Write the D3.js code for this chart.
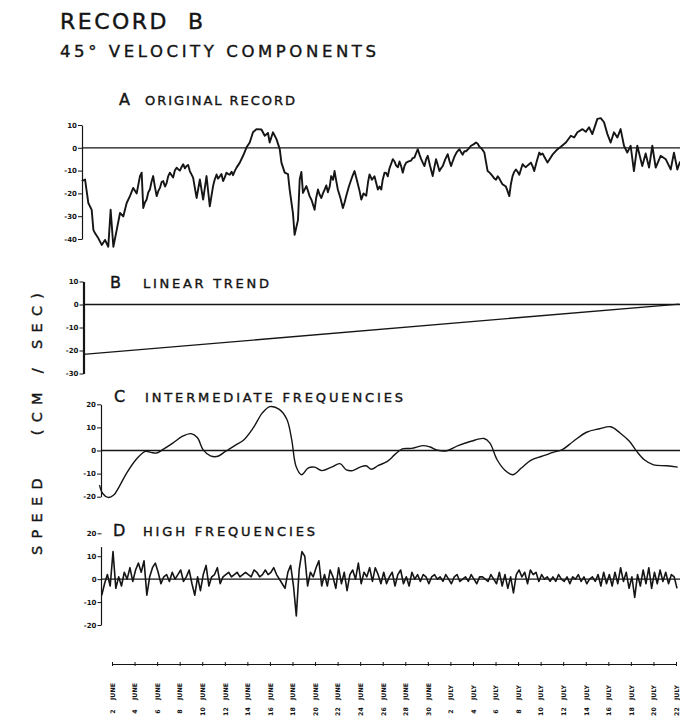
<!DOCTYPE html>
<html>
<head>
<meta charset="utf-8">
<script src="https://cdn.jsdelivr.net/npm/d3@7"></script>
<style>
  body { margin: 0; background: #fff; }
  svg text { font-family: "DejaVu Sans", sans-serif; fill: #141414; }
  .lettering { stroke: #141414; stroke-width: 0.4; }
</style>
</head>
<body>
<svg id="chart" width="680" height="721"></svg>
<script>
(function(){

    // days are counted from 1 June (2 June = 2, 2 July = 32)
    const tickDays = [2,4,6,8,10,12,14,16,18,20,22,24,26,28,30,32,34,36,38,40,42,44,46,48,50,52];
    const tickLabels = ["2 JUNE","4 JUNE","6 JUNE","8 JUNE","10 JUNE","12 JUNE","14 JUNE","16 JUNE",
        "18 JUNE","20 JUNE","22 JUNE","24 JUNE","26 JUNE","28 JUNE","30 JUNE",
        "2 JULY","4 JULY","6 JULY","8 JULY","10 JULY","12 JULY","14 JULY","16 JULY","18 JULY","20 JULY","22 JULY"];

    const ticksA = [10, 0, -10, -20, -30, -40];
    const ticksB = [10, 0, -10, -20, -30];
    const ticksC = [20, 10, 0, -10, -20];
    const ticksD = [20, 10, 0, -10, -20];

    // A: original record [day, cm/sec]
    const originalRecord = [
        [-0.68,-14.6],[-0.39,-13.9],[-0.10,-24.2],[0.20,-27.2],[0.35,-36],[0.50,-37.5],[0.79,-39.7],
        [1.09,-42.6],[1.38,-40.4],[1.67,-43.4],[1.88,-27.2],[2.12,-43.4],[2.42,-36],[2.71,-28.6],
        [3.00,-30.1],[3.30,-24.2],[3.59,-21.2],[3.88,-17.6],[4.19,-20],[4.48,-12.4],[4.63,-10.9],
        [4.77,-26.4],[4.92,-24],[5.07,-22.7],[5.22,-19.5],[5.36,-18.3],[5.50,-15],[5.65,-12.4],[5.80,-17],
        [5.96,-21.2],[6.10,-19],[6.25,-17.6],[6.40,-15],[6.54,-14.6],[6.70,-17],[6.84,-15.5],[6.98,-12.5],
        [7.13,-10.9],[7.28,-12],[7.42,-13],[7.57,-10],[7.73,-8.7],[7.88,-9.5],[8.02,-10],[8.16,-8.5],
        [8.31,-7.2],[8.46,-9],[8.61,-8],[8.75,-7.5],[8.90,-10.2],
        [9.19,-13.1],[9.50,-22],[9.79,-13.9],[10.08,-22.7],[10.38,-12.4],[10.67,-25.7],[10.96,-16.8],
        [11.10,-14],[11.27,-11.7],[11.40,-13.5],[11.56,-12.5],[11.70,-11.5],[11.85,-14.6],[12.00,-13],
        [12.15,-10.9],[12.30,-11.5],[12.44,-11.8],[12.60,-10.5],[12.73,-12],[12.90,-10],[13.04,-8.7],
        [13.33,-6.5],[13.62,-3.5],[13.92,0.1],[14.21,2.3],[14.50,6.8],[14.81,8.2],[15.25,8],[15.54,5.3],
        [15.83,6.5],[15.98,2.3],[16.27,6.8],[16.58,3.8],[16.87,-0.6],[17.02,-6.5],[17.31,-10.9],
        [17.60,-11.5],[17.75,-18.3],[18.04,-28.6],[18.19,-38.2],[18.49,-31.6],[18.64,-13.9],[18.79,-10.6],
        [18.93,-19.8],[19.23,-16.8],[19.38,-19],[19.52,-21.2],[19.70,-23],[19.96,-27.2],[20.10,-22],
        [20.26,-18.3],[20.40,-20.5],[20.56,-22],[20.70,-20],[20.85,-18.3],[21.00,-16.5],[21.14,-19.5],
        [21.30,-17],[21.43,-12.4],[21.60,-14],[21.73,-10.2],[21.88,-14.5],[22.02,-18.3],[22.25,-22],
        [22.47,-26.4],[22.62,-24],[22.77,-21],[23.00,-17],[23.21,-13.9],[23.35,-12],[23.50,-10.2],
        [23.65,-13],[23.80,-16],[23.95,-19],[24.10,-22.7],[24.30,-20],[24.54,-21],[24.70,-15],[24.83,-11.7],
        [25.05,-14],[25.27,-12.5],[25.40,-15],[25.57,-18.3],[25.72,-17],[25.87,-18.3],[26.00,-14],
        [26.16,-10.9],[26.30,-11],[26.45,-12.5],[26.60,-9],[26.75,-7],[26.89,-5],[27.05,-6],[27.19,-7.8],
        [27.35,-8.5],[27.49,-6],[27.63,-8],[27.78,-10.9],[27.93,-8],[28.08,-6.5],[28.30,-6],[28.52,-5.6],
        [28.66,-4.5],[28.81,-4.3],[28.95,-2.5],[29.11,-0.6],[29.26,-3],[29.41,-5],[29.55,-6.5],[29.70,-8],
        [29.85,-5],[29.99,-3.5],[30.20,-8],[30.43,-12.4],[30.58,-8.5],[30.73,-5],[30.88,-7.5],[31.03,-10.2],
        [31.17,-9],[31.32,-8],[31.55,-5],[31.76,-2.8],[31.90,-5.5],[32.06,-8],[32.20,-6],[32.35,-4],
        [32.55,-2],[32.80,-0.6],[32.95,-2],[33.09,-3],[33.24,-1.5],[33.39,-1.5],[33.60,-0.5],[33.83,0.9],
        [34.05,1.5],[34.27,2.3],[34.42,1.8],[34.57,0.5],[34.80,-0.5],[35.01,-2.1],[35.30,-10.2],
        [35.50,-11],[35.74,-12.4],[35.90,-13.5],[36.04,-14],[36.20,-12.5],[36.34,-13.5],[36.50,-15],
        [36.63,-16.1],[36.78,-16.5],[36.92,-17],[37.07,-19],[37.22,-21.2],[37.36,-16],[37.51,-12.4],
        [37.66,-10.5],[37.81,-9.5],[37.96,-10.5],[38.11,-11.8],[38.25,-9.5],[38.40,-7.2],[38.55,-8],
        [38.69,-8.5],[38.90,-7.5],[39.14,-6.5],[39.28,-8],[39.43,-10.2],[39.65,-6],[39.88,-2.1],[40.00,-3],
        [40.17,-2.5],[40.61,-6.5],[41.05,-3],[41.50,-0.6],[41.79,0.5],[42.24,2.3],[42.68,5.3],[42.97,4.5],
        [43.26,6.8],[43.71,8.2],[44.00,7],[44.29,9],[44.58,6],[45.03,12.7],[45.33,13],[45.62,11.2],
        [45.92,6],[46.21,2.3],[46.50,6.8],[46.80,4.5],[47.09,8.2],[47.39,0.9],[47.68,-2.1],[47.98,0.9],
        [48.27,-10.2],[48.57,0.9],[49.01,-8],[49.31,-2.5],[49.61,-8.7],[49.90,0.9],[50.20,-8.7],
        [50.64,-3.5],[51.09,-5],[51.53,-9.5],[51.82,-2.1],[52.12,-9.5],[52.36,-6]
    ];

    // B: linear trend end points
    const linearTrend = [[-0.54, -21.7], [52.3, 0.2]];

    // C: intermediate frequencies [day, cm/sec]
    const intermediate = [
        [0.89,-15],[1.16,-18.5],[1.65,-20.3],[2.15,-19.3],[2.64,-15.6],[3.30,-9.8],[4.12,-4],[4.96,-0.4],
        [5.45,-0.8],[5.94,-1.1],[6.60,0.7],[7.42,3.3],[8.26,6.2],[9.01,7.3],[9.58,5.5],[10.07,0.4],
        [10.73,-2.3],[11.39,-2.5],[12.05,-0.4],[12.88,2.1],[13.70,4.7],[14.52,9.8],[15.35,16.4],[16.01,19],
        [16.83,17.8],[17.50,13.5],[17.93,4.7],[18.32,-6.9],[18.81,-10.5],[19.38,-7.6],[19.96,-7.2],
        [20.63,-8.7],[21.46,-7.2],[22.21,-5.7],[22.78,-8.4],[23.34,-8.7],[24.00,-7.2],[24.52,-6.6],
        [24.99,-8.1],[25.58,-6.6],[26.41,-4.7],[27.07,-1.8],[27.73,0.7],[28.56,0.9],[29.54,2.1],[30.20,1.5],
        [30.87,0.1],[31.69,-0.1],[32.68,2.1],[33.83,4],[34.99,5.2],[35.49,3.3],[36.14,-4],[36.81,-8.4],
        [37.53,-10.5],[38.29,-7.6],[39.12,-4.3],[40.11,-2.5],[41.10,-0.8],[41.92,0.4],[42.91,4],[44.07,7.9],
        [45.22,9.4],[46.21,10.3],[47.04,7.6],[47.87,4],[48.52,-0.4],[49.19,-4],[50.01,-6.2],[51.17,-6.6],
        [52.15,-7.2]
    ];

    // D: high frequencies, one value every quarter day from day 1.09
    const highStart = 1.09;
    const highStep = 0.25;
    const highFreq = [
        -7,-2,2,-3,12,-4,1,-3,3,0,5,-1,4,7,3,8,-7,1,5,7,
        3,-2,1,2,-1,3,0,2,4,-1,1,4,-2,-7,1,-5,2,6,-3,1,
        2,5,-2,1,2,3,1,2,3,1,2,3,2,1,4,3,1,2,4,2,
        3,5,2,0,-2,-4,3,6,-3,-16,4,12,10,-3,3,1,5,8,-3,2,
        -3,4,1,-4,5,-2,3,-5,2,4,0,7,-2,3,1,5,-1,5,2,-2,
        3,-2,1,3,-3,2,4,-2,1,-3,3,0,2,-1,2,1,-2,1,2,0,
        1,-1,2,0,-2,1,2,-1,0,1,-1,2,0,-2,1,1,0,-1,2,0,
        -2,3,-3,2,-4,1,-6,2,4,1,3,-2,4,2,3,-1,2,0,1,-1,
        1,-1,2,0,-1,1,-2,1,0,2,-1,1,-2,0,1,-1,2,-3,3,-2,
        2,-3,3,-2,5,-1,3,-4,1,-8,2,-3,4,-2,5,-4,3,-2,4,-1,
        3,-2,2,1,-4
    ];

    const svg = d3.select("#chart");
    const ink = "#151515";
    const right = 680;

    const x = d3.scaleLinear().domain([2, 52]).range([112, 676]);

    const yA = d3.scaleLinear().domain([-40, 10]).range([239, 125]);
    const yB = d3.scaleLinear().domain([-30, 10]).range([373.5, 281.5]);
    const yC = d3.scaleLinear().domain([-20, 20]).range([496.7, 404.3]);
    const yD = d3.scaleLinear().domain([-20, 20]).range([625, 533.3]);

    // titles
    svg.append("text")
        .attr("class", "lettering")
        .attr("x", 60).attr("y", 29)
        .attr("font-size", 22)
        .attr("textLength", 143).attr("lengthAdjust", "spacing")
        .style("white-space", "pre")
        .text("RECORD  B");
    svg.append("text")
        .attr("class", "lettering")
        .attr("x", 60).attr("y", 57)
        .attr("font-size", 16.5)
        .attr("textLength", 316).attr("lengthAdjust", "spacing")
        .text("45° VELOCITY COMPONENTS");

    // vertical axis title
    svg.append("text")
        .attr("class", "lettering")
        .attr("transform", "translate(42,424) rotate(-90)")
        .attr("text-anchor", "middle")
        .attr("font-size", 14.5)
        .attr("textLength", 262).attr("lengthAdjust", "spacing")
        .style("white-space", "pre")
        .text("SPEED   (CM / SEC)");

    function panelTitle(letter, lx, ly, words, wx, wLen) {
        svg.append("text")
            .attr("class", "lettering")
            .attr("x", lx).attr("y", ly)
            .attr("font-size", 16)
            .text(letter);
        svg.append("text")
            .attr("class", "lettering")
            .attr("x", wx).attr("y", ly)
            .attr("font-size", 13)
            .attr("textLength", wLen).attr("lengthAdjust", "spacing")
            .text(words);
    }

    panelTitle("A", 119, 105, "ORIGINAL RECORD", 145, 150);
    panelTitle("B", 110, 288, "LINEAR TREND", 143, 126);
    panelTitle("C", 114, 402, "INTERMEDIATE FREQUENCIES", 145, 258);
    panelTitle("D", 113, 536, "HIGH FREQUENCIES", 143, 172);

    function leftAxis(y, ax, ticks, width) {
        const g = svg.append("g")
            .attr("transform", "translate(" + ax + ",0)")
            .call(d3.axisLeft(y).tickValues(ticks).tickSize(4).tickPadding(1)
                .tickSizeOuter(0).tickFormat(d => String(d)));
        g.selectAll("text")
            .attr("font-size", 7)
            .attr("font-weight", "bold")
            .attr("font-family", "DejaVu Sans Condensed, DejaVu Sans, sans-serif")
            .attr("fill", ink);
        g.selectAll("line").attr("stroke", ink).attr("stroke-width", 1);
        g.select(".domain").attr("stroke", ink).attr("stroke-width", width);
        return g;
    }

    function zeroLine(y, ax) {
        svg.append("line")
            .attr("x1", ax).attr("x2", right)
            .attr("y1", y(0)).attr("y2", y(0))
            .attr("stroke", ink).attr("stroke-width", 1.3);
    }

    // A
    leftAxis(yA, 82, ticksA, 1.2);
    zeroLine(yA, 82);
    svg.append("path")
        .datum(originalRecord)
        .attr("fill", "none").attr("stroke", ink)
        .attr("stroke-width", 1.9).attr("stroke-linejoin", "round")
        .attr("d", d3.line().x(d => x(d[0])).y(d => yA(d[1])));

    // B
    leftAxis(yB, 83.5, ticksB, 2.2);
    zeroLine(yB, 83.5);
    svg.append("path")
        .datum(linearTrend)
        .attr("fill", "none").attr("stroke", ink).attr("stroke-width", 1.3)
        .attr("d", d3.line().x(d => x(d[0])).y(d => yB(d[1])));

    // C
    leftAxis(yC, 101, ticksC, 1.2);
    zeroLine(yC, 101);
    svg.append("path")
        .datum(intermediate)
        .attr("fill", "none").attr("stroke", ink).attr("stroke-width", 1.4)
        .attr("d", d3.line().curve(d3.curveCatmullRom).x(d => x(d[0])).y(d => yC(d[1])));

    // D
    const gD = leftAxis(yD, 101.5, ticksD, 1.2);
    gD.select(".domain").remove();
    svg.append("line")
        .attr("x1", 101.5).attr("x2", 101.5)
        .attr("y1", yD(14)).attr("y2", yD(-20))
        .attr("stroke", ink).attr("stroke-width", 1.2);
    zeroLine(yD, 101.5);
    svg.append("path")
        .datum(highFreq)
        .attr("fill", "none").attr("stroke", ink)
        .attr("stroke-width", 1.6).attr("stroke-linejoin", "round")
        .attr("d", d3.line().x((d, i) => x(highStart + i * highStep)).y(d => yD(d)));

    // time axis
    const gx = svg.append("g")
        .attr("transform", "translate(0,664)")
        .call(d3.axisBottom(x).tickValues(tickDays).tickSize(2).tickSizeOuter(0).tickFormat(""));
    gx.select(".domain").attr("stroke", ink).attr("stroke-width", 1.2);
    gx.selectAll(".tick line").attr("y1", -2).attr("y2", 2).attr("stroke", ink);
    gx.selectAll(".tick").each(function(d) {
        const parts = tickLabels[tickDays.indexOf(d)].split(" ");
        const t = d3.select(this);
        t.append("text")
            .attr("transform", "rotate(-90)")
            .attr("x", -36).attr("y", 2.3)
            .attr("text-anchor", "start")
            .attr("font-size", 6.3).attr("font-weight", "bold")
            .attr("font-family", "DejaVu Sans Condensed, DejaVu Sans, sans-serif")
            .attr("fill", ink)
            .text(parts[1]);
        t.append("text")
            .attr("transform", "rotate(-90)")
            .attr("x", -47.5).attr("y", 2.3)
            .attr("text-anchor", "middle")
            .attr("font-size", 6.3).attr("font-weight", "bold")
            .attr("font-family", "DejaVu Sans Condensed, DejaVu Sans, sans-serif")
            .attr("fill", ink)
            .text(parts[0]);
    });

})()
</script>
</body>
</html>
